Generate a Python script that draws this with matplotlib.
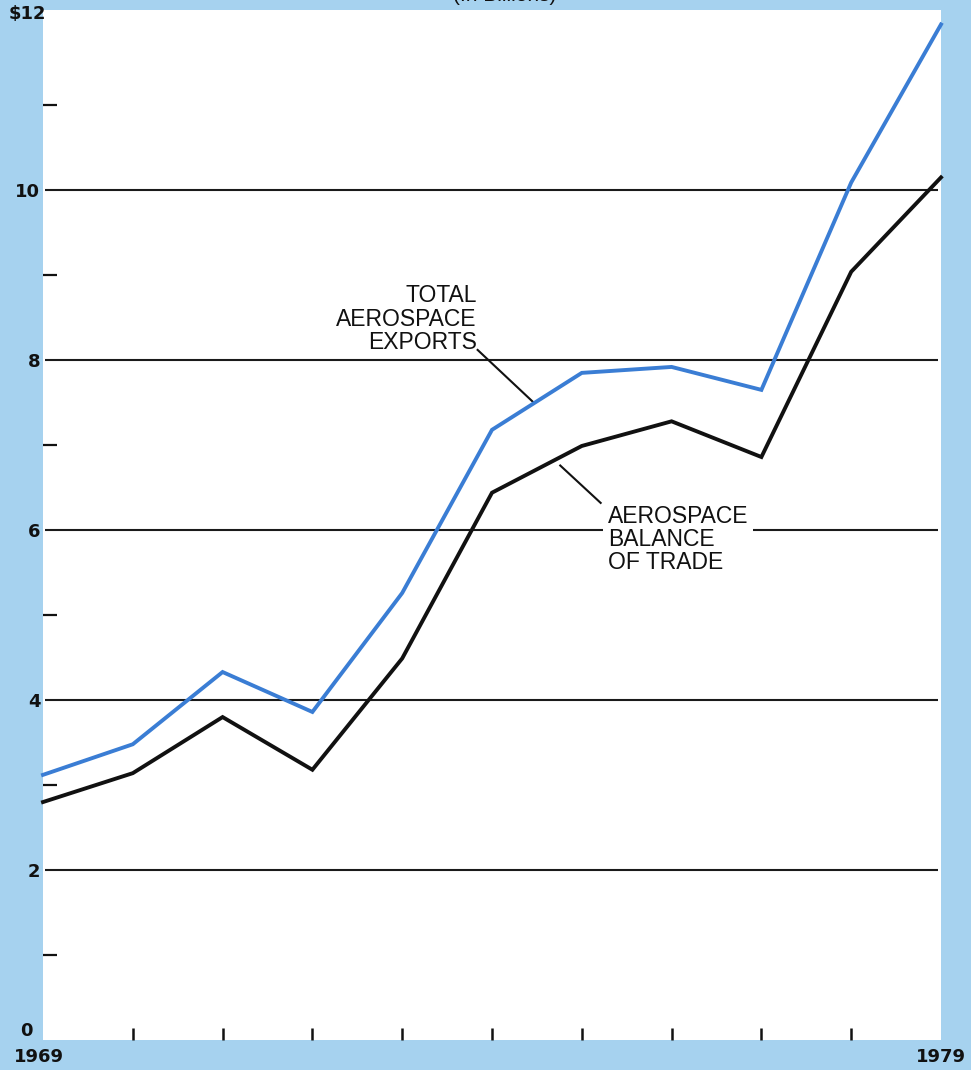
import numpy as np
import matplotlib
matplotlib.use("Agg")
import matplotlib.pyplot as plt
import matplotlib.transforms as mtransforms
from matplotlib.ticker import FixedLocator

# U.S. aerospace trade, billions of dollars
years = [1969, 1970, 1971, 1972, 1973, 1974, 1975, 1976, 1977, 1978, 1979]
total_exports = [3.12, 3.48, 4.33, 3.86, 5.26, 7.18, 7.85, 7.92, 7.65, 10.09, 11.95]
balance_of_trade = [2.80, 3.14, 3.80, 3.18, 4.49, 6.44, 6.99, 7.28, 6.86, 9.04, 10.15]

grid_values = [2, 4, 6, 8, 10]
grid_labels = ["2", "4", "6", "8", "10"]
minor_values = [1, 3, 5, 7, 9, 11]
year_ticks = [1969, 1979]
year_labels = ["1969", "1979"]
minor_years = list(range(1970, 1979))

BG = "#a6d2ef"
BLUE = "#3a7dd4"
INK = "#111111"
FONT = ["Liberation Sans", "DejaVu Sans"]
plt.rcParams["font.family"] = FONT
NUM_FONT = "DejaVu Sans"

W, H = 971, 1070
fig = plt.figure(figsize=(W / 100, H / 100), dpi=100, facecolor=BG)
left, right, top, bottom = 43, 941, 10, 1040
ax = fig.add_axes([left / W, (H - bottom) / H, (right - left) / W, (bottom - top) / H])
ax.set_facecolor("white")
for s in ax.spines.values():
    s.set_visible(False)

ax.set_xlim(1969, 1979)
ax.set_ylim(0, 12.12)

# horizontal rules
ax.hlines(grid_values, 1969.02, 1978.97, color="#1a1a1a", lw=1.5, zorder=1)

# series
ax.plot(years, total_exports, color=BLUE, lw=2.8, solid_joinstyle="miter",
        zorder=3, clip_on=False)
ax.plot(years, balance_of_trade, color=INK, lw=2.8, solid_joinstyle="miter",
        zorder=3, clip_on=False)

# y axis labels
LABEL_SIZE = 13
ax.set_yticks(grid_values)
ax.set_yticklabels(grid_labels)
ax.yaxis.set_minor_locator(FixedLocator(minor_values))
ax.tick_params(axis="y", which="major", length=0, pad=2, labelsize=LABEL_SIZE,
               labelcolor=INK)
ax.tick_params(axis="y", which="minor", direction="in", length=10, width=1.6,
               color=INK)
for lab in ax.get_yticklabels():
    lab.set_fontweight("bold")
    lab.set_family(NUM_FONT)
ax.text(-0.011, 0, "0", transform=ax.get_yaxis_transform(), ha="right",
        va="bottom", fontsize=LABEL_SIZE, fontweight="bold", color=INK,
        family=NUM_FONT)
ax.text(0.003, 12.07, "$12", transform=ax.get_yaxis_transform(), ha="right",
        va="center", fontsize=LABEL_SIZE, fontweight="bold", color=INK,
        family=NUM_FONT, clip_on=False)

# x axis labels
ax.set_xticks(year_ticks)
ax.set_xticklabels(year_labels)
ax.xaxis.set_minor_locator(FixedLocator(minor_years))
ax.tick_params(axis="x", which="major", length=0, pad=6, labelsize=LABEL_SIZE,
               labelcolor=INK)
ax.tick_params(axis="x", which="minor", direction="in", length=9, width=1.8,
               color=INK)
for lab in ax.get_xticklabels():
    lab.set_fontweight("bold")
    lab.set_family(NUM_FONT)
first = ax.get_xticklabels()[0]
first.set_transform(first.get_transform()
                    + mtransforms.ScaledTranslation(-4 / 100, 0, fig.dpi_scale_trans))

# callouts
ax.plot([1973.84, 1974.47], [8.12, np.interp(1974.47, years, total_exports)],
        color=INK, lw=1.5, zorder=2)
ax.text(1973.83, 8.89, "TOTAL\nAEROSPACE\nEXPORTS", ha="right", va="top",
        fontsize=16.5, linespacing=1.02, color=INK)

ax.plot([1974.76, 1975.21], [6.76, 6.32], color=INK, lw=1.5, zorder=2)
ax.text(1975.29, 6.29, "AEROSPACE\nBALANCE\nOF TRADE", ha="left", va="top",
        fontsize=16.5, linespacing=1.0, color=INK, zorder=4,
        bbox=dict(boxstyle="square,pad=0.2", fc="white", ec="none"))

fig.text(0.52, 1 - 5 / H, "(In Billions)", ha="center", va="bottom",
         fontsize=15, color=INK)

fig.savefig("out.png", dpi=100, facecolor=BG)
